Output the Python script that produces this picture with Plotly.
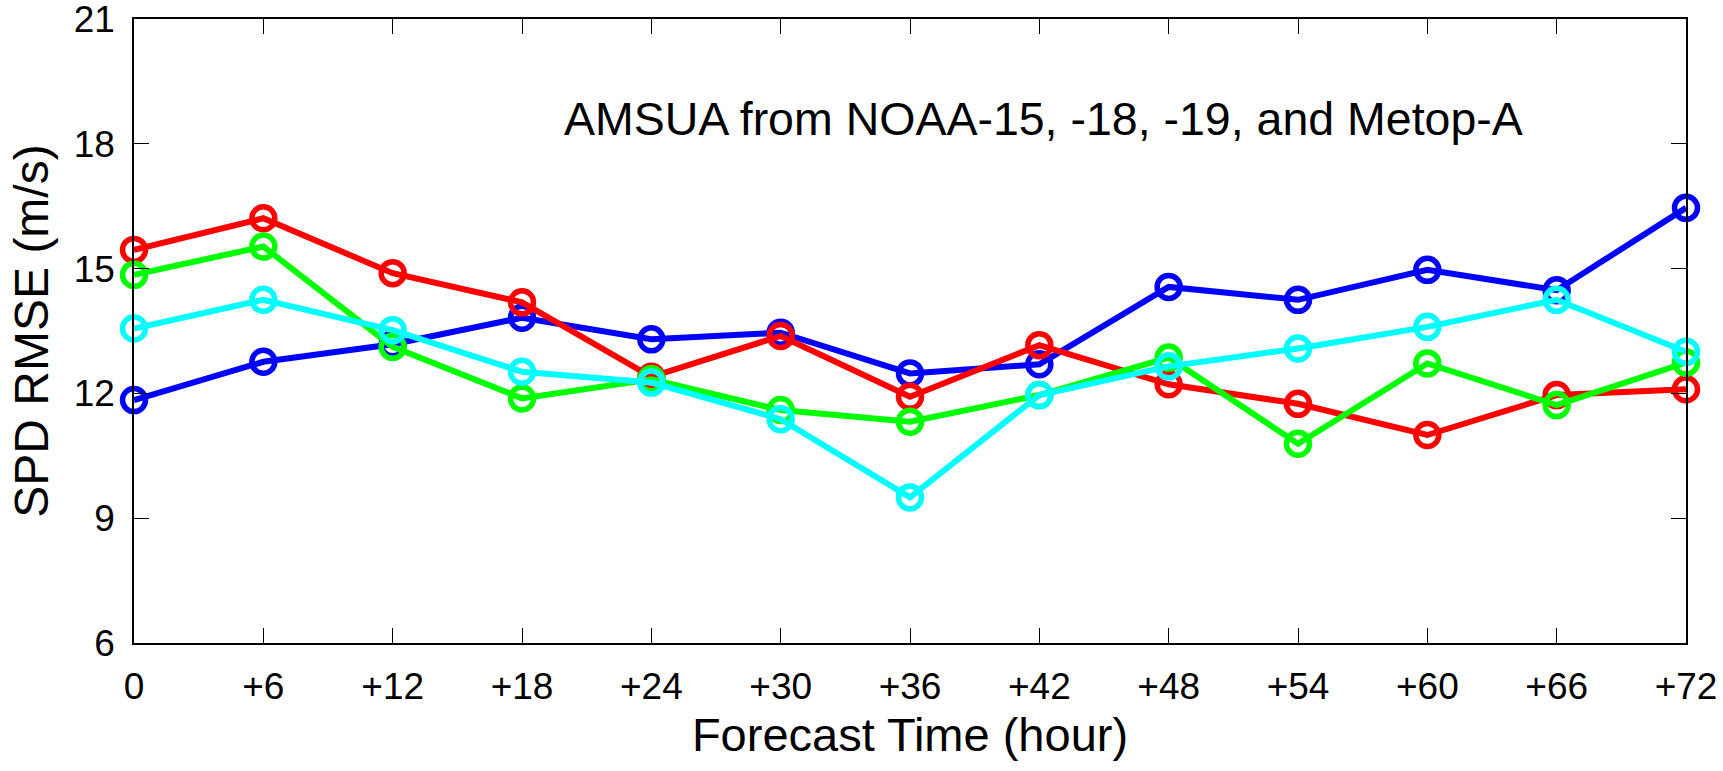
import plotly.graph_objects as go

hours = [0, 6, 12, 18, 24, 30, 36, 42, 48, 54, 60, 66, 72]
tick_labels = ["0", "+6", "+12", "+18", "+24", "+30", "+36", "+42", "+48", "+54", "+60", "+66", "+72"]
y_ticks = [6, 9, 12, 15, 18, 21]

blue_vals = [11.84, 12.76, 13.18, 13.82, 13.30, 13.46, 12.48, 12.70, 14.56, 14.25, 14.97, 14.48, 16.46]
red_vals = [15.45, 16.21, 14.89, 14.19, 12.40, 13.38, 11.92, 13.16, 12.22, 11.75, 11.00, 11.96, 12.10]
green_vals = [14.85, 15.53, 13.12, 11.88, 12.34, 11.60, 11.32, 11.96, 12.86, 10.79, 12.72, 11.72, 12.74]
cyan_vals = [13.56, 14.25, 13.52, 12.52, 12.26, 11.38, 9.50, 11.96, 12.65, 13.08, 13.60, 14.25, 13.00]

series = [
    ("blue", blue_vals, "#0000FF"),
    ("red", red_vals, "#FF0000"),
    ("green", green_vals, "#00FF00"),
    ("cyan", cyan_vals, "#00FFFF"),
]

fig = go.Figure()
for name, vals, col in series:
    fig.add_trace(go.Scatter(
        x=hours, y=vals, mode="lines+markers", name=name,
        line=dict(color=col, width=6),
        marker=dict(symbol="circle-open", size=23, color=col, line=dict(width=5.5, color=col)),
        cliponaxis=False,
    ))

font_family = "Liberation Sans, Arial, sans-serif"
fig.update_layout(
    width=1723, height=771,
    margin=dict(l=134, r=37, t=19, b=128),
    plot_bgcolor="white", paper_bgcolor="white",
    showlegend=False,
    font=dict(family=font_family, color="black"),
    annotations=[dict(
        text="AMSUA from NOAA-15, -18, -19, and Metop-A",
        xref="paper", yref="paper", x=0.2755, y=0.84,
        xanchor="left", yanchor="middle", showarrow=False,
        font=dict(size=46.5, family=font_family, color="black"),
    )],
)
fig.update_xaxes(
    range=[0, 72], tickmode="array", tickvals=hours, ticktext=tick_labels,
    ticks="inside", ticklen=15, tickwidth=1.3, tickcolor="black",
    showline=True, linecolor="black", linewidth=1.5, mirror="ticks",
    showgrid=False, zeroline=False, automargin=False,
    ticklabeloverflow="allow",
    tickfont=dict(size=37, family=font_family, color="black"),
    ticklabelstandoff=10,
    title=dict(text="Forecast Time (hour)", font=dict(size=47, family=font_family, color="black"), standoff=12),
)
fig.update_yaxes(
    range=[6, 21], tickmode="array", tickvals=y_ticks,
    ticks="inside", ticklen=15, tickwidth=1.3, tickcolor="black",
    showline=True, linecolor="black", linewidth=1.5, mirror="ticks",
    showgrid=False, zeroline=False, automargin=False,
    ticklabeloverflow="allow",
    tickfont=dict(size=37, family=font_family, color="black"),
    ticklabelstandoff=10,
    title=dict(text="SPD RMSE (m/s)", font=dict(size=48, family=font_family, color="black"), standoff=10),
)

fig.write_html("out.html", config={"displayModeBar": False},
               post_script="document.body.style.margin='0';document.body.style.overflow='hidden';")
